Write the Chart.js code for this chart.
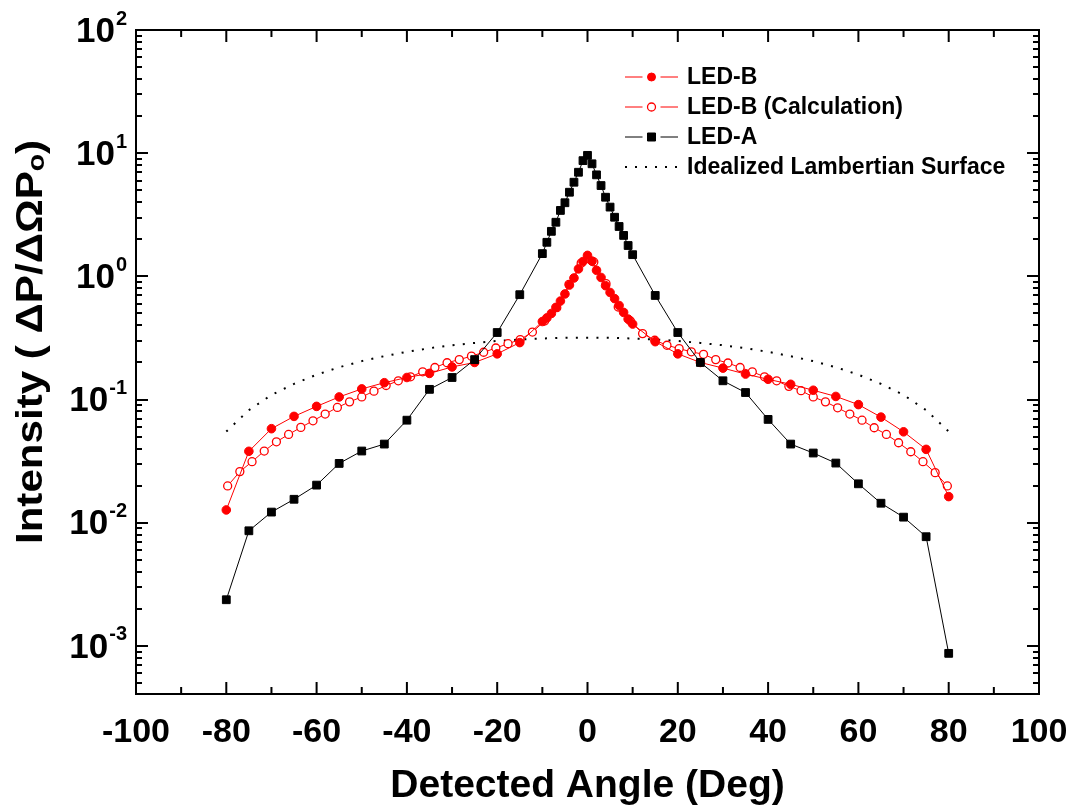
<!DOCTYPE html>
<html>
<head>
<meta charset="utf-8">
<title>Intensity vs Detected Angle</title>
<script src="https://cdn.jsdelivr.net/npm/chart.js@4.4.0/dist/chart.umd.min.js"></script>
<style>
  body { margin: 0; background: #fff; }
  #wrap { width: 1073px; height: 807px; }
</style>
</head>
<body>
<div id="wrap"><canvas id="myChart" width="1073" height="807"></canvas></div>
<script>
// measured angles (deg) and intensities
var ledAngles = [-80, -75, -70, -65, -60, -55, -50, -45, -40, -35, -30, -25, -20, -15,
  -10, -9, -8, -7, -6, -5, -4, -3, -2, -1, 0, 1, 2, 3, 4, 5, 6, 7, 8, 9, 10,
  15, 20, 25, 30, 35, 40, 45, 50, 55, 60, 65, 70, 75, 80];

var ledB = [0.0127, 0.038, 0.058, 0.073, 0.088, 0.105, 0.122, 0.137, 0.151, 0.163, 0.184, 0.200, 0.235, 0.29,
  0.43, 0.46, 0.50, 0.56, 0.63, 0.72, 0.85, 0.97, 1.15, 1.32, 1.48, 1.33, 1.12, 0.98, 0.84, 0.74, 0.66, 0.58, 0.51, 0.45, 0.41,
  0.295, 0.235, 0.200, 0.180, 0.161, 0.146, 0.133, 0.119, 0.106, 0.091, 0.072, 0.0547, 0.0394, 0.0163];

var ledA = [0.00237, 0.0086, 0.0122, 0.0155, 0.0202, 0.0303, 0.0382, 0.0435, 0.068, 0.121, 0.151, 0.211, 0.35, 0.71,
  1.53, 1.89, 2.32, 2.75, 3.43, 3.96, 4.82, 5.81, 7.0, 8.7, 9.6, 8.2, 6.67, 5.46, 4.39, 3.65, 3.02, 2.54, 2.15, 1.78, 1.50,
  0.70, 0.35, 0.200, 0.142, 0.114, 0.069, 0.0435, 0.0368, 0.0305, 0.0207, 0.0144, 0.0111, 0.0077, 0.00087];

var calcAngles = [-79.7, -77.0, -74.3, -71.6, -68.9, -66.2, -63.5, -60.8, -58.1, -55.4, -52.7, -50.0, -47.3, -44.6, -41.9,
  -39.2, -36.5, -33.8, -31.1, -28.4, -25.7, -23.0, -20.3, -17.6, -14.9, -12.2, -9.5, -6.8, -4.1, -1.4,
  1.4, 4.1, 6.8, 9.5, 12.2, 14.9, 17.6, 20.3, 23.0, 25.7, 28.4, 31.1, 33.8, 36.5, 39.2,
  41.9, 44.6, 47.3, 50.0, 52.7, 55.4, 58.1, 60.8, 63.5, 66.2, 68.9, 71.6, 74.3, 77.0, 79.7];

var ledBCalc = [0.0199, 0.026, 0.0313, 0.0382, 0.0454, 0.0521, 0.0594, 0.0672, 0.0762, 0.0863, 0.0958, 0.105, 0.117, 0.130, 0.142,
  0.153, 0.168, 0.182, 0.199, 0.211, 0.225, 0.242, 0.262, 0.284, 0.307, 0.353, 0.434, 0.557, 0.861, 1.28,
  1.31, 0.873, 0.564, 0.434, 0.343, 0.303, 0.276, 0.259, 0.244, 0.233, 0.211, 0.198, 0.182, 0.168, 0.153,
  0.142, 0.128, 0.118, 0.105, 0.0958, 0.0857, 0.0762, 0.068, 0.059, 0.0521, 0.0446, 0.0377, 0.0313, 0.0255, 0.0199];

var lambAngles = [-80, -75, -70, -65, -60, -55, -50, -45, -40, -35, -30, -25, -20, -15, -10, -5, 0,
  5, 10, 15, 20, 25, 30, 35, 40, 45, 50, 55, 60, 65, 70, 75, 80];
var lambert = [0.055, 0.082, 0.109, 0.134, 0.159, 0.183, 0.205, 0.225, 0.244, 0.261, 0.276, 0.288, 0.299, 0.307, 0.313, 0.317, 0.318,
  0.317, 0.313, 0.307, 0.299, 0.288, 0.276, 0.261, 0.244, 0.225, 0.205, 0.183, 0.159, 0.134, 0.109, 0.082, 0.055];

var xTicks = [-100, -80, -60, -40, -20, 0, 20, 40, 60, 80, 100];
var xMinorTicks = [-90, -70, -50, -30, -10, 10, 30, 50, 70, 90];
var yDecades = [-3, -2, -1, 0, 1, 2];
var yTitle = 'Intensity ( \u0394P/\u0394\u03A9P\u2092)';

function pts(xs, ys) {
  var out = [];
  for (var i = 0; i < xs.length; i++) out.push({ x: xs[i], y: ys[i] });
  return out;
}

var FONT = "'Liberation Sans', Arial, Helvetica, sans-serif";

// frame, inward ticks, 10^n labels and the y title
var frameTicks = {
  id: 'frameTicks',
  afterDatasetsDraw: function (chart) {
    var ctx = chart.ctx, a = chart.chartArea;
    var xs = chart.scales.x, ys = chart.scales.y;
    var i, v, p, len;
    ctx.save();
    ctx.strokeStyle = '#000';
    ctx.lineWidth = 2;
    ctx.strokeRect(a.left, a.top, a.right - a.left, a.bottom - a.top);
    ctx.beginPath();
    var allX = xTicks.concat(xMinorTicks);
    for (i = 0; i < allX.length; i++) {
      v = allX[i];
      p = xs.getPixelForValue(v);
      len = xMinorTicks.indexOf(v) > -1 ? 7 : 12;
      ctx.moveTo(p, a.bottom); ctx.lineTo(p, a.bottom - len);
      ctx.moveTo(p, a.top); ctx.lineTo(p, a.top + len);
    }
    for (var n = -4; n <= 2; n++) {
      for (var m = 1; m <= 9; m++) {
        v = m * Math.pow(10, n);
        if (v < ys.min || v > ys.max * 1.0001) continue;
        p = Math.round(ys.getPixelForValue(v));
        len = m === 1 ? 12 : 6;
        ctx.moveTo(a.left, p); ctx.lineTo(a.left + len, p);
        ctx.moveTo(a.right, p); ctx.lineTo(a.right - len, p);
      }
    }
    ctx.stroke();

    ctx.fillStyle = '#000';
    ctx.textBaseline = 'middle';
    for (i = 0; i < yDecades.length; i++) {
      p = ys.getPixelForValue(Math.pow(10, yDecades[i]));
      var ex = String(yDecades[i]);
      ctx.font = 'bold 20px ' + FONT;
      var ew = ctx.measureText(ex).width;
      var right = a.left - 9;
      ctx.textAlign = 'left';
      ctx.fillText(ex, right - ew, p - 11);
      ctx.font = 'bold 35px ' + FONT;
      ctx.textAlign = 'right';
      ctx.fillText('10', right - ew - 1, p + 2);
    }

    // y title, a little stretched along its length like the original
    ctx.save();
    ctx.translate(32, 342);
    ctx.rotate(-Math.PI / 2);
    ctx.scale(1.17, 1);
    ctx.font = 'bold 36px ' + FONT;
    ctx.textAlign = 'center';
    ctx.textBaseline = 'middle';
    ctx.fillText(yTitle, 0, 0);
    ctx.restore();
    ctx.restore();
  }
};

// legend in the top right corner of the plot
var cornerLegend = {
  id: 'cornerLegend',
  afterDraw: function (chart) {
    var ctx = chart.ctx;
    var x0 = 625, x1 = 678, tx = 687, y0 = 77, dy = 30;
    ctx.save();
    chart.data.datasets.forEach(function (ds, i) {
      var y = y0 + dy * i;
      var mid = (x0 + x1) / 2;
      ctx.strokeStyle = ds.borderColor;
      ctx.lineWidth = 1;
      if (ds.borderDash) {
        ctx.fillStyle = ds.borderColor;
        for (var dx = x0; dx <= x1; dx += 10) ctx.fillRect(dx, y - 1, 2, 2);
      } else {
        ctx.beginPath();
        ctx.moveTo(x0, y); ctx.lineTo(mid - 9, y);
        ctx.moveTo(mid + 9, y); ctx.lineTo(x1, y);
        ctx.stroke();
        ctx.fillStyle = ds.pointBackgroundColor;
        ctx.strokeStyle = ds.pointBorderColor;
        ctx.lineWidth = ds.pointBorderWidth;
        ctx.beginPath();
        if (ds.pointStyle === 'rect') {
          ctx.rect(mid - 4, y - 4, 8, 8);
        } else {
          ctx.arc(mid, y, 4, 0, Math.PI * 2);
        }
        ctx.fill();
        ctx.stroke();
      }
      ctx.fillStyle = '#000';
      ctx.font = 'bold 23px ' + FONT;
      ctx.textAlign = 'left';
      ctx.textBaseline = 'middle';
      ctx.fillText(ds.label, tx, y + 1);
    });
    ctx.restore();
  }
};

var ctx = document.getElementById('myChart');
new Chart(ctx, {
  type: 'line',
  data: {
    datasets: [{
      label: 'LED-B',
      data: pts(ledAngles, ledB),
      borderColor: '#ff0000',
      borderWidth: 1,
      pointStyle: 'circle',
      pointRadius: 4.3,
      pointBackgroundColor: '#ff0000',
      pointBorderColor: '#ff0000',
      pointBorderWidth: 1,
      order: 2
    }, {
      label: 'LED-B (Calculation)',
      data: pts(calcAngles, ledBCalc),
      borderColor: '#ff0000',
      borderWidth: 1,
      pointStyle: 'circle',
      pointRadius: 4,
      pointBackgroundColor: '#ffffff',
      pointBorderColor: '#ff0000',
      pointBorderWidth: 1.3,
      order: 3
    }, {
      label: 'LED-A',
      data: pts(ledAngles, ledA),
      borderColor: '#000000',
      borderWidth: 1,
      pointStyle: 'rect',
      pointRadius: 5.5,
      pointBackgroundColor: '#000000',
      pointBorderColor: '#000000',
      pointBorderWidth: 1,
      order: 1
    }, {
      label: 'Idealized Lambertian Surface',
      data: pts(lambAngles, lambert),
      borderColor: '#000000',
      borderWidth: 2,
      borderDash: [2, 8.3],
      pointRadius: 0,
      order: 4
    }]
  },
  options: {
    responsive: false,
    animation: false,
    devicePixelRatio: 1,
    layout: { padding: { top: 30, right: 34, left: 0, bottom: 0 } },
    plugins: {
      legend: { display: false },
      tooltip: { enabled: false }
    },
    scales: {
      x: {
        type: 'linear',
        min: -100,
        max: 100,
        grid: { display: false, drawTicks: false },
        border: { display: false },
        afterBuildTicks: function (scale) {
          scale.ticks = xTicks.map(function (v) { return { value: v }; });
        },
        afterFit: function (scale) {
          scale.height = 113;
          scale.paddingLeft = 0;
          scale.paddingRight = 0;
        },
        ticks: {
          autoSkip: false,
          maxRotation: 0,
          padding: 18,
          color: '#000',
          font: { family: FONT, size: 34, weight: 'bold' }
        },
        title: {
          display: true,
          text: 'Detected Angle (Deg)',
          color: '#000',
          padding: { top: 0, bottom: -3 },
          font: { family: FONT, size: 39, weight: 'bold' }
        }
      },
      y: {
        type: 'logarithmic',
        min: 4.07e-4,
        max: 100,
        grid: { display: false, drawTicks: false },
        border: { display: false },
        ticks: { display: false },
        afterFit: function (scale) { scale.width = 136; },
        title: { display: false }
      }
    }
  },
  plugins: [frameTicks, cornerLegend]
});
</script>
</body>
</html>
